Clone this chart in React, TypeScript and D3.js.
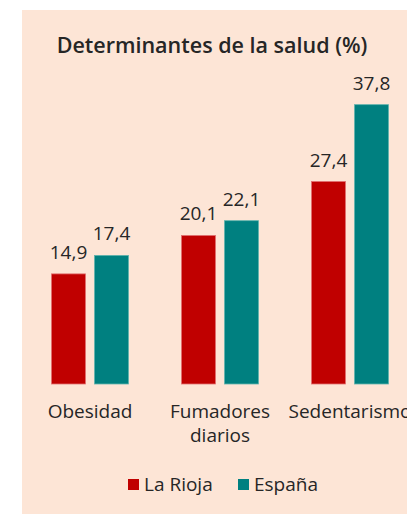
import React, { useEffect, useRef } from "react";
import * as d3 from "d3";

// chart data
const categories = ["Obesidad", "Fumadores\ndiarios", "Sedentarismo"];
const seriesNames = ["La Rioja", "España"];
const laRioja = [14.9, 20.1, 27.4];
const espana = [17.4, 22.1, 37.8];
const seriesColors = ["#C00000", "#008080"];
const seriesStrokes = ["#e07070", "#5fb3ad"];

const W = 407;
const H = 514;

const App = () => {
	const svgRef = useRef<SVGSVGElement>(null);

	useEffect(() => {
		const svg = d3.select(svgRef.current);
		svg.selectAll("*").remove();

		const font = "'Open Sans', sans-serif";
		const textColor = "#262626";

		// background panel
		svg.append("rect").attr("x", 22).attr("y", 10).attr("width", W - 22).attr("height", H - 10).attr("fill", "#FDE5D6");

		svg.append("text")
			.attr("x", 212)
			.attr("y", 53)
			.attr("text-anchor", "middle")
			.style("font-family", font)
			.style("font-weight", 600)
			.style("font-size", "21.5px")
			.style("fill", textColor)
			.text("Determinantes de la salud (%)");

		const x0 = d3.scaleBand<string>().domain(categories).range([25, 415]).paddingInner(0.4).paddingOuter(0.2);
		const x1 = d3.scaleBand<string>().domain(seriesNames).range([0, x0.bandwidth()]).paddingInner(0.186);
		const y = d3.scaleLinear().domain([0, 40]).range([384, 88.4]);

		const values = [laRioja, espana];
		const rows = categories.flatMap((c, i) =>
			seriesNames.map((s, j) => ({ cat: c, series: s, value: values[j][i], j }))
		);

		const fmt = (v: number) => v.toFixed(1).replace(".", ",");

		const g = svg.append("g");
		g.selectAll("rect.bar")
			.data(rows)
			.join("rect")
			.attr("class", "bar")
			.attr("x", (d) => x0(d.cat)! + x1(d.series)! + 0.5)
			.attr("y", (d) => y(d.value))
			.attr("width", x1.bandwidth() - 1)
			.attr("height", (d) => y(0) - y(d.value))
			.attr("fill", (d) => seriesColors[d.j])
			.attr("stroke", (d) => seriesStrokes[d.j])
			.attr("stroke-width", 0.8);

		g.selectAll("text.val")
			.data(rows)
			.join("text")
			.attr("class", "val")
			.attr("x", (d) => x0(d.cat)! + x1(d.series)! + x1.bandwidth() / 2)
			.attr("y", (d) => y(d.value) - 15)
			.attr("text-anchor", "middle")
			.style("font-family", font)
			.style("font-size", "19px")
			.style("fill", textColor)
			.text((d) => fmt(d.value));

		// category labels
		categories.forEach((c) => {
			const t = svg.append("text")
				.attr("x", x0(c)! + x0.bandwidth() / 2)
				.attr("y", 418)
				.attr("text-anchor", "middle")
				.style("font-family", font)
				.style("font-size", "19px")
				.style("fill", textColor);
			c.split("\n").forEach((line, k) => {
				t.append("tspan").attr("x", x0(c)! + x0.bandwidth() / 2).attr("dy", k === 0 ? 0 : 24).text(line);
			});
		});

		// legend
		const legendX = [128, 238];
		seriesNames.forEach((s, j) => {
			svg.append("rect").attr("x", legendX[j]).attr("y", 479).attr("width", 11).attr("height", 11).attr("fill", seriesColors[j]);
			svg.append("text")
				.attr("x", legendX[j] + 16)
				.attr("y", 491)
				.style("font-family", font)
				.style("font-size", "19px")
				.style("fill", textColor)
				.text(s);
		});
	}, []);

	return (
		<svg ref={svgRef} width={W} height={H} style={{ position: "absolute", left: 0, top: 0, display: "block" }}></svg>
	);
};

export default App;
